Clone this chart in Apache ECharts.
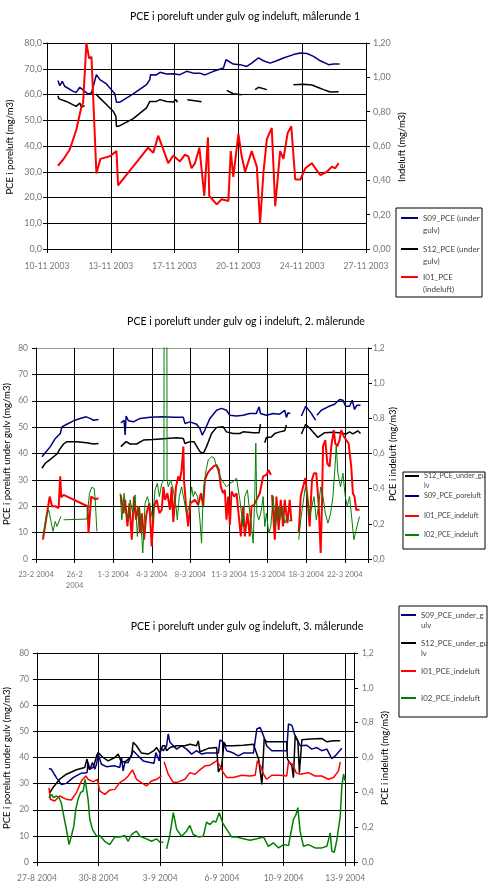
<!DOCTYPE html>
<html><head><meta charset="utf-8">
<script src="https://cdn.jsdelivr.net/npm/echarts@6/dist/echarts.min.js"></script>
<style>html,body{margin:0;padding:0;background:#fff}#c{width:490px;height:894px}</style>
</head><body><div id="c"></div>
<script>
// ---------- Målerunde 1 (x = days after 10-11 2003) ----------
const r1Ticks = ['10-11 2003','13-11 2003','17-11 2003','20-11 2003','24-11 2003','27-11 2003'];
const r1_S09 = [[0.6,65.4],[0.7,63.4],[0.84,65.1],[0.97,63.2],[1.43,61.2],[1.6,60.8],[1.8,62.8],[2.07,61.2],[2.25,60.2],[2.44,60.6],[2.71,67.7],[2.9,65.8],[3.26,64.1],[3.72,60.3],[3.81,57.0],[4.0,57.0],[4.73,60.2],[5.46,63.8],[5.64,65.8],[5.68,67.7],[6.0,67.6],[6.2,68.6],[6.56,68.0],[6.93,68.1],[7.29,67.7],[7.66,69.0],[8.03,68.3],[8.39,68.3],[8.67,67.6],[9.13,69.0],[9.68,70.3],[9.82,73.5],[10.22,71.8],[10.59,71.6],[10.96,70.9],[11.23,72.2],[11.6,74.2],[11.87,73.1],[12.24,72.2],[12.6,73.1],[12.97,74.2],[13.52,75.5],[13.89,76.1],[14.26,75.9],[14.62,74.8],[14.99,73.1],[15.45,71.6],[15.72,71.8],[16.05,71.8]];
const r1_S12 = [[0.6,59.5],[0.66,58.3],[1.06,57.3],[1.6,55.4],[1.8,56.7],[1.89,55.1],[2.07,55.7],[2.3,'-'],[2.68,60.2],[2.9,58.6],[3.26,56.1],[3.63,53.5],[3.78,51.5],[3.81,47.6],[4.0,47.9],[4.73,50.6],[5.46,54.8],[5.64,57.3],[6.0,57.3],[6.2,58.0],[6.56,57.3],[6.93,57.1],[7.07,58.0],[7.16,57.0],[7.4,'-'],[7.7,58.0],[8.1,57.6],[8.48,57.2],[9.0,'-'],[9.86,61.6],[10.22,60.3],[10.68,59.9],[11.0,'-'],[11.42,61.9],[11.6,62.8],[12.06,61.9],[12.5,'-'],[13.52,63.8],[14.07,64.0],[14.53,63.7],[14.81,62.9],[15.17,61.9],[15.54,61.0],[16.0,61.1]];
const r1_I01 = [[0.6,0.485],[0.88,0.52],[1.25,0.58],[1.61,0.695],[1.89,0.83],[1.98,0.85],[2.16,1.2],[2.31,1.11],[2.44,1.12],[2.71,0.44],[2.8,0.44],[2.93,0.525],[3.45,0.54],[3.81,0.57],[3.9,0.37],[5.55,0.59],[5.83,0.56],[6.1,0.66],[6.38,0.58],[6.65,0.50],[6.93,0.545],[7.29,0.51],[7.57,0.55],[7.75,0.54],[7.93,0.47],[8.12,0.50],[8.36,0.59],[8.63,0.31],[8.83,0.65],[8.9,0.31],[9.31,0.26],[9.58,0.29],[9.95,0.28],[10.08,0.57],[10.22,0.42],[10.5,0.67],[10.68,0.54],[10.87,0.45],[11.23,0.57],[11.51,0.48],[11.69,0.15],[11.87,0.44],[12.06,0.64],[12.33,0.705],[12.52,0.25],[12.79,0.57],[12.97,0.525],[13.2,0.675],[13.4,0.715],[13.62,0.405],[13.9,0.405],[14.17,0.47],[14.53,0.50],[14.72,0.47],[15.0,0.43],[15.36,0.45],[15.63,0.48],[15.81,0.47],[16.0,0.50]];

// ---------- Målerunde 2 (x = days after 23-2 2004) ----------
const r2Ticks = ['23-2 2004','26-2\n2004','1-3 2004','4-3 2004','8-3 2004','11-3 2004','15-3 2004','18-3 2004','22-3 2004'];
const r2_S12 = [[0.54,34.4],[0.84,36.3],[1.3,37.8],[1.9,39.8],[2.2,41.9],[2.5,43.6],[2.8,44.5],[3.7,44.5],[4.6,44.1],[5.2,43.6],[5.67,43.8],[6.5,'-'],[7.69,42.6],[8.17,44.5],[8.53,43.6],[9.13,43.6],[9.74,45.1],[10.64,45.3],[11.85,45.7],[12.76,46.0],[13.36,45.7],[13.5,43.8],[13.96,44.5],[14.32,44.5],[14.56,42.8],[14.86,40.7],[15.16,40.0],[15.46,42.6],[15.92,47.6],[16.37,49.9],[16.97,50.1],[17.27,48.2],[17.88,47.6],[18.48,47.6],[18.78,48.2],[19.69,47.9],[20.23,47.9],[20.35,51.1],[20.5,'-'],[20.74,44.1],[20.89,46.1],[21.35,46.3],[21.65,47.6],[22.1,48.2],[22.55,48.6],[22.7,50.8],[23.5,'-'],[24.06,47.4],[24.45,51.1],[24.96,48.9],[25.56,46.1],[26.17,47.9],[26.92,48.1],[27.52,47.9],[28.13,47.4],[28.43,48.2],[28.73,47.4],[29.18,48.6],[29.42,47.6]];
const r2_S09 = [[0.54,38.8],[0.84,40.3],[1.3,42.6],[1.75,45.7],[2.2,47.6],[2.35,50.1],[2.8,51.1],[3.4,52.4],[4.0,53.3],[4.55,53.9],[4.9,53.3],[5.2,52.6],[5.67,52.9],[6.5,'-'],[7.69,51.6],[7.99,52.6],[8.08,47.0],[8.17,54.2],[8.38,52.4],[8.83,52.0],[9.44,53.3],[10.34,53.7],[11.55,53.9],[12.45,53.7],[13.36,53.7],[13.5,51.4],[13.96,52.0],[14.56,51.1],[14.86,49.5],[15.07,47.0],[15.31,48.9],[15.77,53.3],[16.37,56.4],[16.82,57.1],[17.27,56.4],[17.57,54.5],[18.18,54.2],[18.78,54.5],[19.38,55.2],[19.98,55.2],[20.23,57.7],[20.35,55.2],[20.89,54.5],[21.5,55.2],[22.1,54.9],[22.55,56.4],[22.7,53.7],[22.85,55.4],[23.06,55.2],[23.5,'-'],[24.06,54.2],[24.45,57.9],[24.96,55.2],[25.35,52.6],[25.41,'-'],[25.47,54.5],[25.87,56.4],[26.47,57.7],[27.07,58.7],[27.52,60.5],[27.83,60.2],[28.07,57.9],[28.43,57.9],[28.67,60.2],[28.88,56.7],[29.09,58.3],[29.42,58.3]];
const r2_I01 = [[0.63,0.11],[1.0,0.26],[1.24,0.355],[1.45,0.30],[1.75,0.30],[2.05,0.29],[2.2,0.47],[2.29,0.35],[2.5,0.365],[4.67,0.30],[4.76,0.147],[4.9,0.147],[5.0,0.355],[5.37,0.34],[5.67,0.345],[6.5,'-'],
 [7.69,0.365],[7.93,0.26],[8.08,0.336],[8.29,0.185],[8.47,0.317],[8.68,0.11],[8.89,0.355],[9.07,0.223],[9.29,0.30],[9.44,0.147],[9.59,0.26],[9.8,0.11],[9.98,0.242],[10.1,0.28],[10.28,0.317],[10.49,0.072],[10.7,0.30],[10.94,0.336],[11.19,0.26],[11.4,0.28],[11.55,0.41],[11.7,0.336],[11.91,0.374],[12.15,0.28],[12.3,0.41],[12.45,0.21],[12.69,0.41],[12.9,0.47],[13.05,0.45],[13.2,0.506],[13.36,0.64],[13.42,0.45],[13.6,0.30],[13.8,0.185],[14.0,0.317],[14.41,0.336],[14.71,0.308],[14.95,0.374],[15.16,0.30],[15.31,0.45],[15.56,0.488],[15.77,0.506],[16.07,0.525],[16.37,0.535],[16.58,0.506],[16.76,0.41],[16.97,0.374],[17.12,0.393],[17.27,0.223],[17.42,0.355],[17.58,0.195],[17.73,0.384],[17.97,0.355],[18.18,0.374],[18.33,0.384],[18.57,0.128],[18.78,0.30],[18.93,0.128],[19.17,0.26],[19.38,0.128],[19.54,0.30],[19.78,0.308],[19.99,0.336],[20.29,0.374],[20.59,0.47],[20.89,0.478],[21.1,0.506],[21.29,0.478],[21.35,'-'],
 [21.4,0.365],[21.65,0.11],[21.8,0.355],[22.0,0.166],[22.19,0.336],[22.4,0.185],[22.55,0.336],[22.79,0.204],[23.0,0.336],[23.15,0.214],[23.5,'-'],
 [23.82,0.147],[24.0,0.355],[24.21,0.41],[24.42,0.46],[24.6,0.355],[24.81,0.185],[25.02,0.45],[25.2,0.488],[25.41,0.488],[25.62,0.317],[25.81,0.034],[25.93,0.317],[26.02,0.64],[26.23,0.676],[26.41,0.544],[26.62,0.525],[26.77,0.64],[27.0,0.733],[27.13,0.658],[27.31,0.64],[27.52,0.676],[27.67,0.733],[27.92,0.695],[28.13,0.676],[28.34,0.658],[28.58,0.525],[28.73,0.374],[28.88,0.355],[29.03,0.28],[29.33,0.28]];
const r2_I02 = [[0.63,0.128],[0.93,0.242],[1.15,0.28],[1.36,0.214],[1.54,0.157],[1.75,0.214],[1.9,0.185],[2.14,0.223],[2.26,0.242],[2.4,'-'],[2.5,0.223],[4.61,0.227],[4.85,0.374],[5.06,0.408],[5.28,0.40],[5.37,0.336],[5.52,0.157],[6.5,'-'],
 [7.63,0.374],[7.78,0.223],[7.99,0.374],[8.17,0.26],[8.38,0.223],[8.53,0.336],[8.77,0.26],[8.98,0.365],[9.19,0.128],[9.38,0.30],[9.5,0.223],[9.68,0.034],[9.89,0.317],[10.1,0.355],[10.34,0.30],[10.58,0.223],[10.79,0.393],[11.0,0.43],[11.19,0.355],[11.4,0.43],[11.6,0.45],[11.62,2.0],[11.86,2.0],[11.88,0.45],[12.0,0.41],[12.21,0.45],[12.45,0.393],[12.69,0.30],[12.81,0.223],[12.99,0.355],[13.2,0.41],[13.42,0.336],[13.66,0.26],[13.9,0.30],[14.11,0.41],[14.26,0.355],[14.41,0.384],[14.65,0.355],[14.86,0.223],[15.01,0.09],[15.16,0.374],[15.37,0.488],[15.61,0.563],[15.92,0.582],[16.16,0.573],[16.37,0.525],[16.58,0.488],[16.82,0.45],[17.06,0.43],[17.27,0.41],[17.58,0.43],[17.88,0.44],[18.18,0.46],[18.48,0.336],[18.63,0.26],[18.78,0.185],[18.93,0.355],[19.17,0.393],[19.38,0.26],[19.54,0.185],[19.69,0.09],[19.84,0.374],[19.93,0.658],[20.02,0.26],[20.2,0.223],[20.38,0.26],[20.59,0.355],[20.74,0.185],[20.89,0.26],[21.1,0.147],[21.29,0.185],[21.5,0.355],[21.71,0.185],[21.95,0.30],[22.1,0.223],[22.31,0.30],[22.55,0.204],[22.79,0.242],[23.0,0.214],[23.15,0.223],[23.5,'-'],
 [23.82,0.11],[24.0,0.223],[24.21,0.317],[24.42,0.41],[24.6,0.355],[24.81,0.242],[25.02,0.30],[25.2,0.355],[25.41,0.223],[25.62,0.30],[25.81,0.41],[26.02,0.355],[26.23,0.26],[26.47,0.204],[26.71,0.26],[26.92,0.355],[27.07,0.488],[27.22,0.64],[27.37,0.488],[27.61,0.41],[27.83,0.488],[28.04,0.355],[28.22,0.30],[28.43,0.355],[28.64,0.223],[28.82,0.11],[29.03,0.166],[29.33,0.242]];

// ---------- Målerunde 3 (x = days after 27-8 2004) ----------
const r3Ticks = ['27-8 2004','30-8 2004','3-9 2004','6-9 2004','10-9 2004','13-9 2004'];
const r3_S09 = [[0.68,35.8],[0.82,35.5],[1.1,32.3],[1.38,29.7],[1.67,30.1],[2.05,32.3],[2.52,34.0],[2.84,34.2],[2.9,38.1],[3.0,35.3],[3.15,38.1],[3.28,35.5],[3.38,37.4],[3.47,41.3],[3.66,37.4],[3.94,36.5],[4.42,36.8],[4.7,36.2],[4.8,40.0],[4.89,34.9],[4.99,38.1],[5.18,38.1],[5.46,42.6],[5.75,40.6],[6.03,38.7],[6.41,38.1],[6.64,37.8],[6.75,41.9],[6.94,38.7],[7.02,43.8],[7.17,42.6],[7.36,44.5],[7.45,49.0],[7.55,45.8],[7.74,44.5],[7.93,43.2],[8.21,44.5],[8.49,43.2],[8.78,41.3],[9.06,42.6],[9.35,41.3],[9.63,41.7],[10.11,41.7],[10.3,41.7],[10.39,46.8],[10.58,45.8],[10.77,42.6],[10.96,42.2],[11.15,41.7],[11.43,40.6],[11.72,41.7],[12.29,41.7],[12.48,50.9],[12.67,51.5],[12.86,48.3],[13.04,44.5],[13.33,42.6],[13.8,42.6],[14.18,42.6],[14.28,52.8],[14.47,52.4],[14.62,49.0],[14.75,47.1],[14.94,44.5],[15.32,44.7],[15.6,43.2],[15.89,43.8],[16.17,42.6],[16.46,43.2],[16.74,39.6],[16.93,40.6],[17.31,43.5]];
const r3_S12 = [[0.72,26.5],[0.91,28.5],[1.29,31.7],[1.67,33.6],[2.24,35.3],[2.71,36.2],[2.84,39.4],[2.96,35.5],[3.19,36.2],[3.28,38.1],[3.38,40.6],[3.47,41.9],[3.75,40.0],[4.04,38.7],[4.42,40.0],[4.61,41.3],[4.7,41.9],[4.8,38.1],[5.08,38.7],[5.37,40.6],[5.46,45.8],[5.65,44.5],[5.93,41.7],[6.31,41.3],[6.64,42.6],[6.79,43.8],[6.98,41.7],[7.13,44.5],[7.26,44.5],[7.36,42.6],[7.55,43.8],[7.93,44.5],[8.4,44.5],[8.68,45.1],[9.06,44.5],[9.16,46.4],[9.25,42.2],[9.73,43.5],[10.2,43.8],[10.3,34.5],[10.49,36.8],[10.62,45.8],[10.73,44.5],[11.15,44.5],[11.72,44.7],[12.29,45.1],[12.39,44.5],[12.58,39.4],[12.77,29.7],[12.9,47.1],[13.04,46.0],[13.61,46.0],[14.18,46.0],[14.22,39.4],[14.47,36.8],[14.56,32.3],[14.66,48.3],[14.81,46.4],[14.9,34.2],[15.04,46.8],[15.51,47.1],[16.17,47.3],[16.46,46.0],[16.84,46.4],[17.22,46.4]];
const r3_I01 = [[0.68,0.427],[0.76,0.36],[1.0,0.35],[1.29,0.379],[1.67,0.36],[1.95,0.356],[2.24,0.398],[2.52,0.465],[2.77,0.494],[2.9,0.475],[3.19,0.46],[3.43,0.475],[3.56,0.408],[3.85,0.388],[4.13,0.413],[4.42,0.417],[4.7,0.456],[4.99,0.475],[5.18,0.494],[5.42,0.529],[5.65,0.475],[5.93,0.456],[6.22,0.437],[6.5,0.465],[6.79,0.475],[7.07,0.494],[7.15,'-'],[7.22,0.575],[7.45,0.504],[7.74,0.456],[8.02,0.46],[8.4,0.475],[8.68,0.513],[8.97,0.504],[9.25,0.529],[9.54,0.552],[9.82,0.556],[10.2,0.581],[10.39,0.552],[10.58,0.513],[10.77,0.485],[11.15,0.485],[11.62,0.498],[12.1,0.494],[12.39,0.498],[12.51,0.581],[12.7,0.552],[12.86,0.504],[13.04,0.475],[13.33,0.498],[13.8,0.498],[14.18,0.494],[14.28,0.575],[14.52,0.561],[14.71,0.513],[14.94,0.504],[15.41,0.513],[15.79,0.494],[16.17,0.494],[16.55,0.475],[16.84,0.485],[17.12,0.523],[17.22,0.575]];
const r3_I02 = [[0.68,0.369],[0.82,0.388],[0.95,0.369],[1.1,0.379],[1.25,0.369],[1.38,0.34],[1.52,0.263],[1.67,0.187],[1.82,0.10],[1.95,0.148],[2.09,0.206],[2.2,0.302],[2.33,0.36],[2.47,0.398],[2.62,0.408],[2.73,0.475],[2.81,0.465],[2.9,0.36],[3.0,0.244],[3.15,0.187],[3.38,0.148],[3.56,0.152],[3.85,0.119],[4.13,0.10],[4.42,0.144],[4.7,0.144],[4.99,0.152],[5.18,0.119],[5.37,0.158],[5.65,0.177],[5.84,0.148],[6.22,0.133],[6.5,0.119],[6.79,0.133],[6.98,0.113],[7.17,0.113],[7.26,'-'],[7.36,0.075],[7.55,0.158],[7.74,0.283],[7.93,0.187],[8.21,0.148],[8.49,0.177],[8.68,0.21],[8.87,0.158],[9.16,0.144],[9.44,0.148],[9.63,0.229],[9.82,0.215],[10.01,0.235],[10.16,0.229],[10.35,0.283],[10.54,0.225],[10.77,0.187],[11.05,0.144],[11.34,0.144],[11.72,0.133],[12.1,0.125],[12.48,0.133],[12.86,0.144],[13.14,0.09],[13.42,0.11],[13.71,0.081],[14.0,0.10],[14.28,0.094],[14.56,0.244],[14.71,0.273],[14.81,0.312],[14.94,0.177],[15.13,0.09],[15.41,0.10],[15.79,0.081],[16.17,0.081],[16.46,0.09],[16.65,0.167],[16.74,0.062],[16.88,0.056],[17.03,0.129],[17.22,0.263],[17.31,0.437],[17.41,0.504],[17.5,0.465]];

// legend label texts (as wrapped in the original)
const r1Names = ['S09_PCE (under gulv)','S12_PCE (under gulv)','I01_PCE (indeluft)'];
const r1LegendText = ['S09_PCE (under\ngulv)','S12_PCE (under\ngulv)','I01_PCE\n(indeluft)'];
const r2Names = ['S12_PCE_under_gulv','S09_PCE_poreluft','I01_PCE_indeluft','I02_PCE_indeluft'];
const r2LegendText = ['S12_PCE_under_gu\nlv','S09_PCE_poreluft','I01_PCE_indeluft','I02_PCE_indeluft'];
const r3Names = ['S09_PCE_under_gulv','S12_PCE_under_gulv ','I01_PCE_indeluft ','I02_PCE_indeluft '];
const r3LegendText = ['S09_PCE_under_g\nulv','S12_PCE_under_gu\nlv','I01_PCE_indeluft','I02_PCE_indeluft'];
// axis titles
const axisTitles = ['PCE i poreluft (mg/m3)','Indeluft (mg/m3)','PCE i poreluft under gulv (mg/m3)','PCE i indeluft (mg/m3)','PCE i poreluft under gulv (mg/m3)','PCE i indeluft (mg/m3)'];

const FONT = 'Lato';
const LBL = '#777';
const chart = echarts.init(document.getElementById('c'), null, {renderer:'canvas'});

function xAx(g, max, ticks, margin, fs){
  return {type:'value', gridIndex:g, min:0, max:max, interval:3.5,
    axisLine:{show:true, onZero:false, lineStyle:{color:'#000', width:1}},
    axisTick:{show:true, length:4, lineStyle:{color:'#000'}},
    splitLine:{show:true, lineStyle:{color:'#000', width:1}},
    axisLabel:{margin:margin, color:LBL, fontSize:fs, fontFamily:FONT, lineHeight:11,
      formatter:function(v){ const i=Math.round(v/3.5); return (Math.abs(v-i*3.5)<1e-6 && i<ticks.length) ? ticks[i] : ''; }}};
}
function yL(g, dec, margin, fs, topColor){
  const cols = ['#000','#000','#000','#000','#000','#000','#000','#000', topColor];
  return {type:'value', gridIndex:g, position:'left', min:0, max:80, interval:10,
    axisLine:{show:true, lineStyle:{color:'#000'}},
    axisTick:{show:true, length:4, lineStyle:{color:'#000'}},
    splitLine:{show:true, lineStyle:{color:cols, width:1}},
    axisLabel:{margin:margin, color:LBL, fontSize:fs, fontFamily:FONT,
      formatter:function(v){ return v.toFixed(dec).replace('.',','); }}};
}
function yR(g, dec, margin, fs){
  return {type:'value', gridIndex:g, position:'right', min:0, max:1.2, interval:0.2,
    axisLine:{show:true, lineStyle:{color:'#000'}},
    axisTick:{show:true, length:4, lineStyle:{color:'#000'}},
    splitLine:{show:false},
    axisLabel:{margin:margin, color:LBL, fontSize:fs, fontFamily:FONT,
      formatter:function(v){ return v.toFixed(dec).replace('.',','); }}};
}
function ln(name, data, xi, yi, color, w){
  return {type:'line', name:name, data:data, xAxisIndex:xi, yAxisIndex:yi,
    showSymbol:false, symbol:'none', connectNulls:false, clip:true,
    lineStyle:{color:color, width:w}, itemStyle:{color:color}, animation:false};
}
function leg(name, text, left, top, w, fs, lh){
  return {data:[name], left:left, top:top, padding:0, itemWidth:w, itemHeight:2, icon:'rect',
    selectedMode:false, textStyle:{fontSize:fs, lineHeight:lh, color:'#444', fontFamily:FONT},
    formatter:function(){ return text; }};
}
function vtitle(text, x, y){
  return {type:'text', x:x, y:y, rotation:Math.PI/2, z:5,
    style:{text:text, fontSize:9.5, fontFamily:FONT, fill:'#000', align:'center', verticalAlign:'middle'}};
}
function box(x, y, w, h){
  return {type:'rect', shape:{x:x, y:y, width:w, height:h}, style:{fill:'none', stroke:'#000', lineWidth:1}, z:1};
}

const option = {
  animation:false,
  backgroundColor:'#fff',
  title:[
    {text:'PCE i poreluft under gulv og indeluft, målerunde 1', left:240, top:6, textAlign:'center', textStyle:{fontSize:10.5, fontWeight:'normal', color:'#000', fontFamily:FONT}},
    {text:'PCE i poreluft under gulv og i indeluft, 2. målerunde', left:241, top:311, textAlign:'center', textStyle:{fontSize:10.5, fontWeight:'normal', color:'#000', fontFamily:FONT}},
    {text:'PCE i poreluft under gulv og indeluft, 3. målerunde', left:242, top:616, textAlign:'center', textStyle:{fontSize:10.5, fontWeight:'normal', color:'#000', fontFamily:FONT}}
  ],
  grid:[
    {left:47, top:43, width:319, height:206},
    {left:36, top:348, width:332, height:211},
    {left:37, top:653, width:317, height:209}
  ],
  xAxis:[ xAx(0,17.5,r1Ticks,12,8.5), xAx(1,30.1,r2Ticks,10,7.6), xAx(2,18.0,r3Ticks,11,8.5) ],
  yAxis:[
    yL(0,1,5,9,'#000'), yR(0,2,7,9),
    yL(1,0,8,8.5,'#999'), yR(1,1,5,8.5),
    yL(2,0,8,8.5,'#000'), yR(2,1,8,8.5)
  ],
  legend:[
    leg(r1Names[0], '\n'+r1LegendText[0], 401, 200, 17, 8, 12),
    leg(r1Names[1], '\n'+r1LegendText[1], 401, 231, 17, 8, 12),
    leg(r1Names[2], '\n'+r1LegendText[2], 401, 259, 17, 8, 12),
    leg(r2Names[0], '\n'+r2LegendText[0], 405, 461, 14, 7.2, 10),
    leg(r2Names[1], r2LegendText[1], 405, 491, 14, 7.2, 10),
    leg(r2Names[2], r2LegendText[2], 405, 511, 14, 7.2, 10),
    leg(r2Names[3], r2LegendText[3], 405, 530, 14, 7.2, 10),
    leg(r3Names[0], '\n'+r3LegendText[0], 401, 600, 15, 7.8, 10),
    leg(r3Names[1], '\n'+r3LegendText[1], 401, 628, 15, 7.8, 10),
    leg(r3Names[2], r3LegendText[2], 401, 666, 15, 7.8, 10),
    leg(r3Names[3], r3LegendText[3], 401, 693, 15, 7.8, 10)
  ],
  graphic:[
    box(396, 208, 86, 89), box(403, 472, 82, 77), box(399, 606, 88, 111),
    vtitle(axisTitles[0], 10, 147), vtitle(axisTitles[1], 402, 147),
    vtitle(axisTitles[2], 7, 454), vtitle(axisTitles[3], 393, 454),
    vtitle(axisTitles[4], 7, 758), vtitle(axisTitles[5], 385, 758)
  ],
  series:[
    ln(r1Names[0], r1_S09, 0, 0, '#000080', 1.5),
    ln(r1Names[1], r1_S12, 0, 0, '#000000', 1.5),
    ln(r1Names[2], r1_I01, 0, 1, '#ff0000', 2),
    ln(r2Names[0], r2_S12, 1, 2, '#000000', 1.5),
    ln(r2Names[1], r2_S09, 1, 2, '#000080', 1.5),
    ln(r2Names[2], r2_I01, 1, 3, '#ff0000', 2),
    ln(r2Names[3], r2_I02, 1, 3, '#008000', 1),
    ln(r3Names[0], r3_S09, 2, 4, '#000080', 1.5),
    ln(r3Names[1], r3_S12, 2, 4, '#000000', 1.5),
    ln(r3Names[2], r3_I01, 2, 5, '#ff0000', 1.5),
    ln(r3Names[3], r3_I02, 2, 5, '#008000', 1.5)
  ]
};
chart.setOption(option);
</script>
</body></html>
